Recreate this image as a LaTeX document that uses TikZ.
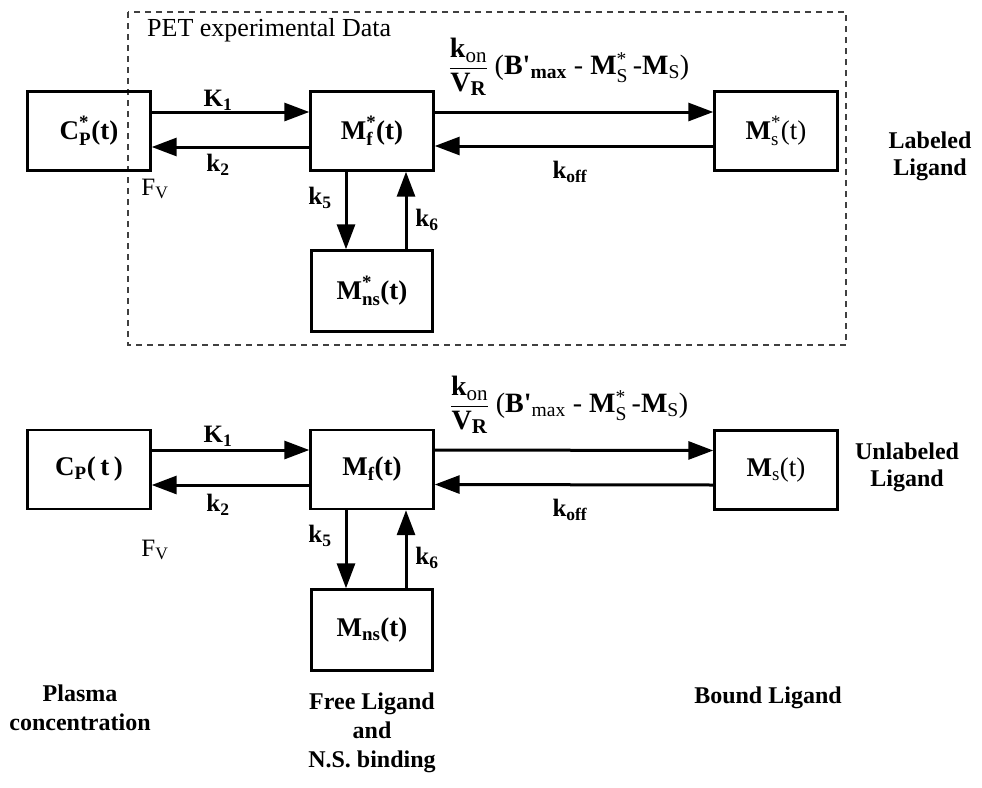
\documentclass[tikz,border=0pt]{standalone}
\usepackage{amsmath}
\usepackage{fontspec}
\setmainfont{Liberation Serif}
\usetikzlibrary{arrows.meta}
\newcommand{\bt}[1]{\text{\textbf{#1}}}
\newcommand{\rt}[1]{\text{#1}}
\newcommand{\prm}{\textquotesingle}
\newcommand{\sbs}[2]{#1\raisebox{-0.35ex}{\fontsize{21}{21}\selectfont #2}}
\tikzset{
 box/.style={draw, line width=2.4pt, minimum width=123pt, minimum height=79pt, inner sep=0pt, font=\fontsize{27}{29}\selectfont},
 arr/.style={line width=3pt, -{Triangle[length=25pt,width=18pt]}},
 klbl/.style={font=\fontsize{25}{27}\selectfont, inner sep=0pt},
 grp/.style={font=\fontsize{24}{27}\selectfont\bfseries, align=center, inner sep=0pt},
 fml/.style={font=\fontsize{28}{30}\selectfont, inner sep=0pt},
 pet/.style={draw=black!75, line width=1.8pt, dash pattern=on 6pt off 5pt},
}
\begin{document}
\begin{tikzpicture}[x=1pt,y=-1pt]
\useasboundingbox (0,0) rectangle (982,787);
% dashed experimental region
\draw[pet] (128,12) rectangle (846,345);
\node[inner sep=0pt, font=\fontsize{26}{28}\selectfont, anchor=west] (pettxt) at (147,30) {PET experimental Data};

% ---- labeled ligand row ----
\node[box] (cps) at (89,131) {$\bt{C}^{\bt{*}}_{\bt{P}}\bt{(t)}$};
\node[box] (mfs) at (372,131) {$\bt{M}^{\bt{*}}_{\bt{f}}\bt{(t)}$};
\node[box] (mss) at (776,131) {$\bt{M}^{\rt{*}}_{\rt{s}}\rt{(t)}$};
\node[box, minimum height=81pt, minimum width=121pt] (mns) at (372,291) {$\bt{M}^{\bt{*}}_{\bt{ns}}\bt{(t)}$};

\draw[arr] ([yshift=19pt]cps.east) -- ([yshift=19pt]mfs.west);
\draw[arr] ([yshift=-16pt]mfs.west) -- ([yshift=-16pt]cps.east);
\draw[arr] ([yshift=19pt]mfs.east) -- ([yshift=19pt]mss.west);
\draw[arr] ([yshift=-15pt]mss.west) -- ([yshift=-15pt]mfs.east);
\draw[arr] ([xshift=-26pt]mfs.south) -- ([xshift=-26pt]mns.north);
\draw[arr] ([xshift=34pt]mns.north) -- ([xshift=34pt]mfs.south);

\node[klbl] (k1a) at (218,100) {$\bt{K}_{\bt{1}}$};
\node[klbl] (k2a) at (218,165) {$\bt{k}_{\bt{2}}$};
\node[klbl] (fva) at (155,189) {$\rt{F}_{\rt{V}}$};
\node[klbl] (k5a) at (320,198) {$\bt{k}_{\bt{5}}$};
\node[klbl] (k6a) at (427,220) {$\bt{k}_{\bt{6}}$};
\node[klbl] (koffa) at (570,172) {$\bt{k}_{\bt{off}}$};
\node[fml] (fa) at (569,67) {$\dfrac{\text{\sbs{\textbf{k}}{on}}}{\text{\sbs{\textbf{V}}{\textbf{R}}}}$ (\textbf{B\prm}$_{\bt{max}}$ - \textbf{M}$^{\rt{*}}_{\rt{S}}$\,-\textbf{M}$_{\rt{S}}$)};
\node[grp] (lab) at (930,156) {Labeled\\Ligand};

% ---- unlabeled ligand row ----
\node[box] (cp) at (89,469.5) {$\bt{C}_{\bt{P}}\bt{(\,t\,)}$};
\node[box] (mf) at (372,469.5) {$\bt{M}_{\bt{f}}\bt{(t)}$};
\node[box] (ms) at (776,470) {$\bt{M}_{\rt{s}}\rt{(t)}$};
\node[box, minimum height=81pt, minimum width=121pt] (mn) at (372,630) {$\bt{M}_{\bt{ns}}\bt{(t)}$};

\draw[arr] ([yshift=19.5pt]cp.east) -- ([yshift=19.5pt]mf.west);
\draw[arr] ([yshift=-15.5pt]mf.west) -- ([yshift=-15.5pt]cp.east);
\draw[arr] ([yshift=19.5pt]mf.east) -- ([yshift=19.5pt]ms.west);
\draw[arr] ([yshift=-15pt]ms.west) -- ([yshift=-15pt]mf.east);
\draw[arr] ([xshift=-26pt]mf.south) -- ([xshift=-26pt]mn.north);
\draw[arr] ([xshift=34pt]mn.north) -- ([xshift=34pt]mf.south);

\node[klbl] (k1b) at (218,436) {$\bt{K}_{\bt{1}}$};
\node[klbl] (k2b) at (218,505) {$\bt{k}_{\bt{2}}$};
\node[klbl] (fvb) at (155,550) {$\rt{F}_{\rt{V}}$};
\node[klbl] (k5b) at (320,536) {$\bt{k}_{\bt{5}}$};
\node[klbl] (k6b) at (427,558) {$\bt{k}_{\bt{6}}$};
\node[klbl] (koffb) at (570,510) {$\bt{k}_{\bt{off}}$};
\node[fml] (fb) at (569,405) {$\dfrac{\text{\sbs{\textbf{k}}{on}}}{\text{\sbs{\textbf{V}}{\textbf{R}}}}$ (\textbf{B\prm}$_{\rt{max}}$ - \textbf{M}$^{\rt{*}}_{\rt{S}}$\,-\textbf{M}$_{\rt{S}}$)};
\node[grp] (unlab) at (907,467) {Unlabeled\\Ligand};

% ---- bottom captions ----
\node[grp, font=\fontsize{24}{29}\selectfont\bfseries] (plasma) at (80,708) {Plasma\\concentration};
\node[grp, font=\fontsize{24}{29}\selectfont\bfseries] (freel) at (372,733) {Free Ligand\\and\\N.S. binding};
\node[grp] (bound) at (768,698) {Bound Ligand};
\end{tikzpicture}
\end{document}
